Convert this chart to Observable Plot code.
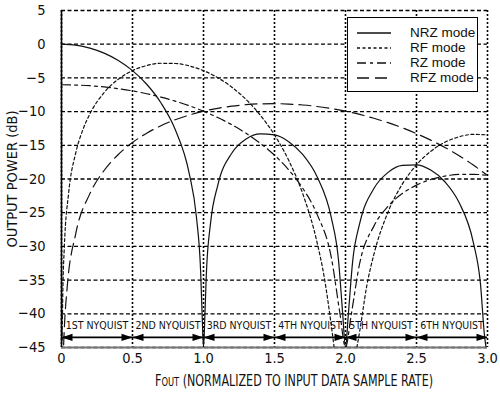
<!DOCTYPE html>
<html><head><meta charset="utf-8">
<script src="https://cdn.jsdelivr.net/npm/d3@7"></script>
<script src="https://cdn.jsdelivr.net/npm/@observablehq/plot@0.6"></script>
<style>
body{margin:0;background:#fff;}
#wrap{position:relative;width:500px;height:394px;overflow:hidden;}
#chart svg{font-stretch:condensed;}
#legend{position:absolute;left:347px;top:17px;width:131px;height:75px;border:1.3px solid #000;background:#fff;box-sizing:border-box;font-family:"Liberation Sans",Arial,sans-serif;font-size:13.5px;color:#111;}
#legend .row{position:absolute;left:0;height:15px;width:100%;}
#legend svg{position:absolute;left:9px;top:1px;}
#legend span{position:absolute;left:62px;top:-1px;white-space:nowrap;}
#xlabel{position:absolute;left:294px;top:371px;transform-origin:0 0;font-family:"DejaVu Sans",sans-serif;font-stretch:condensed;font-size:16px;color:#111;white-space:nowrap;display:inline-block;}
#xlabel small{font-size:12px;}
</style></head>
<body>
<div id="wrap">
  <div id="chart"></div>
  <div id="legend"></div>
  <div id="xlabel">F<small>OUT</small> (NORMALIZED TO INPUT DATA SAMPLE RATE)</div>
</div>
<script>
// ---- data ----
const nrzF  = [0,0.1,0.2,0.3,0.4,0.5,0.6,0.7,0.8,0.9,0.95,0.98,0.99,1.0,1.01,1.02,1.05,1.1,1.2,1.3,1.4,1.5,1.6,1.7,1.8,1.9,1.95,1.98,2.0,2.02,2.05,2.1,2.2,2.3,2.4,2.5,2.6,2.7,2.8,2.9,2.95,2.98,2.99];
const nrzDb = [0,-0.14,-0.58,-1.33,-2.42,-3.92,-5.94,-8.69,-12.62,-19.23,-25.61,-33.81,-39.9,-45,-40.09,-34.16,-26.48,-20.97,-16.14,-14.06,-13.30,-13.46,-14.46,-16.39,-19.66,-25.72,-31.86,-39.92,-45,-40.09,-32.29,-26.59,-21.41,-19.02,-17.98,-17.90,-18.68,-20.41,-23.50,-29.39,-35.45,-43.47,-45];

const rfF  = [0.004,0.01,0.02,0.05,0.1,0.15,0.2,0.3,0.4,0.5,0.6,0.7,0.8,0.9,1.0,1.1,1.2,1.3,1.4,1.5,1.6,1.7,1.8,1.85,1.9,1.92,2.0,2.08,2.1,2.15,2.2,2.3,2.4,2.5,2.6,2.7,2.8,2.9,3.0];
const rfDb = [-44,-36.1,-30.06,-22.12,-16.15,-12.72,-10.34,-7.18,-5.19,-3.92,-3.17,-2.83,-2.86,-3.22,-3.92,-4.97,-6.38,-8.21,-10.53,-13.46,-17.23,-22.25,-29.43,-34.54,-41.73,-45,null,-45,-42.59,-35.84,-31.17,-24.88,-20.76,-17.90,-15.90,-14.55,-13.74,-13.38,-13.46];

const rzF  = [0,0.1,0.2,0.3,0.4,0.5,0.6,0.7,0.8,0.9,1.0,1.1,1.2,1.3,1.4,1.5,1.6,1.7,1.8,1.9,1.96,2.0,2.04,2.1,2.2,2.3,2.4,2.5,2.6,2.7,2.8,2.9,3.0];
const rzDb = [-6.02,-6.06,-6.16,-6.34,-6.60,-6.93,-7.35,-7.85,-8.44,-9.13,-9.94,-10.88,-11.96,-13.22,-14.71,-16.47,-18.64,-21.41,-25.25,-31.63,-39.83,-45,-40.18,-32.50,-26.99,-24.03,-22.16,-20.91,-20.08,-19.57,-19.32,-19.30,-19.48];

const rfzF  = [0.015,0.02,0.04,0.1,0.2,0.3,0.4,0.5,0.6,0.7,0.8,0.9,1.0,1.1,1.2,1.3,1.4,1.5,1.6,1.7,1.8,1.9,2.0,2.1,2.2,2.3,2.4,2.5,2.6,2.7,2.8,2.9,3.0];
const rfzDb = [-44.6,-42.1,-36.08,-28.14,-22.17,-18.74,-16.36,-14.59,-13.20,-12.10,-11.21,-10.51,-9.94,-9.51,-9.19,-8.97,-8.85,-8.82,-8.88,-9.02,-9.24,-9.55,-9.94,-10.42,-10.99,-11.64,-12.40,-13.26,-14.23,-15.32,-16.55,-17.93,-19.48];

const seriesNames = ["NRZ mode","RF mode","RZ mode","RFZ mode"];
const seriesDash  = ["none","3,2.5","9,4,3,4","12,6"];

const xTicks = [0,0.5,1,1.5,2,2.5,3];
const xTickLabels = ["0","0.5","1.0","1.5","2.0","2.5","3.0"];
const yTicks = [5,0,-5,-10,-15,-20,-25,-30,-35,-40,-45];

const zoneEdges  = [0,0.5,1,1.5,2,2.5,3];
const zoneLabels = ["1ST NYQUIST","2ND NYQUIST","3RD NYQUIST","4TH NYQUIST","5TH NYQUIST","6TH NYQUIST"];
const zoneArrowDb = -43.5;
const zoneLabelDb = -41.7;

// ---- build tables ----
const toRows = (fs, ds, name) => fs.map((f, i) => ({f, db: ds[i], name}));
const series = [
  toRows(nrzF, nrzDb, seriesNames[0]),
  toRows(rfF, rfDb, seriesNames[1]),
  toRows(rzF, rzDb, seriesNames[2]),
  toRows(rfzF, rfzDb, seriesNames[3])
];
const zones = zoneLabels.map((label, i) => ({x1: zoneEdges[i], x2: zoneEdges[i+1], xm: (zoneEdges[i]+zoneEdges[i+1])/2, label, y: zoneArrowDb, ly: zoneLabelDb}));

const font = '"DejaVu Sans",sans-serif';

const marks = [
  Plot.gridY(yTicks, {stroke: "#000", strokeOpacity: 1, strokeWidth: 1.3, strokeDasharray: "4,2.5"}),
  Plot.gridX(xTicks, {stroke: "#000", strokeOpacity: 1, strokeWidth: 1.6, strokeDasharray: "2,2"}),
  Plot.ruleY([-45], {stroke: "#777", strokeWidth: 2}),
  Plot.ruleX([0], {stroke: "#000", strokeWidth: 1.6}),
  ...series.map((rows, i) => Plot.line(rows, {x: "f", y: "db", curve: "monotone-x", stroke: "#111", strokeWidth: 1.2, strokeDasharray: seriesDash[i] === "none" ? null : seriesDash[i], clip: true})),
  Plot.ruleY(zones, {y: "y", x1: "x1", x2: "x2", stroke: "#000", strokeWidth: 1.6}),
  Plot.vector(zones, {x: "x2", y: "y", rotate: 90, length: 11, r: 3.6, shape: "spike", anchor: "end", fill: "#000", fillOpacity: 1, stroke: "none"}),
  Plot.vector(zones, {x: "x1", y: "y", rotate: 270, length: 11, r: 3.6, shape: "spike", anchor: "end", fill: "#000", fillOpacity: 1, stroke: "none"}),
  Plot.text(zones, {x: "xm", y: "ly", text: "label", fontSize: 10.5, fill: "#111"}),
  Plot.axisY(yTicks, {tickSize: 0, tickPadding: 16, fontSize: 14.5, label: "OUTPUT POWER (dB)", labelArrow: "none", labelAnchor: "center", labelOffset: 55}),
  Plot.axisX(xTicks, {tickSize: 0, tickPadding: 5, fontSize: 14.5, tickFormat: d => xTickLabels[xTicks.indexOf(d)], label: null})
];

const chart = Plot.plot({
  width: 500,
  height: 394,
  marginLeft: 61,
  marginRight: 13,
  marginTop: 10,
  marginBottom: 47,
  x: {domain: [0, 3]},
  y: {domain: [-45, 5]},
  style: {fontFamily: font, fontSize: "14px", color: "#111", background: "#fff"},
  marks
});
document.getElementById("chart").appendChild(chart);

// ---- x label: squeeze to the reference's narrow width, centred ----
const xl = document.getElementById("xlabel");
const w = xl.getBoundingClientRect().width;
const targetW = 278;
const s = Math.min(1, targetW / w);
xl.style.left = (294 - targetW / 2) + "px";
xl.style.transform = `scaleX(${s})`;

// ---- legend (HTML overlay) ----
const legend = document.getElementById("legend");
seriesNames.forEach((name, i) => {
  const row = document.createElement("div");
  row.className = "row";
  row.style.top = (8 + i * 15) + "px";
  const dash = seriesDash[i] === "none" ? "" : `stroke-dasharray="${seriesDash[i]}"`;
  row.innerHTML = `<svg width="34" height="12"><line x1="0" y1="6" x2="34" y2="6" stroke="#111" stroke-width="1.4" ${dash}/></svg><span>${name}</span>`;
  legend.appendChild(row);
});
</script>
</body></html>
